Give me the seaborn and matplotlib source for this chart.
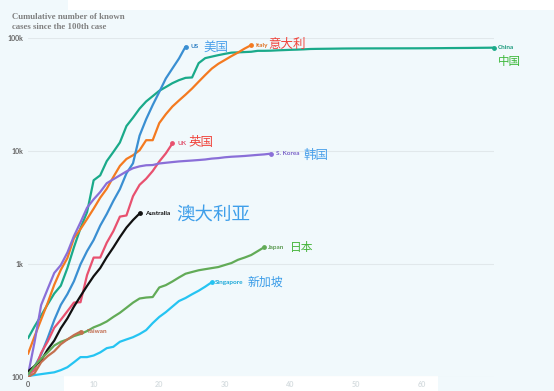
import matplotlib
matplotlib.use("Agg")
import matplotlib.pyplot as plt
from matplotlib.patches import Rectangle
import numpy as np
import pandas as pd
import seaborn as sns

# ---------------- data (cumulative cases, day 0 = 100th case) ----------------
china = [220, 280, 350, 440, 548, 643, 920, 1406, 2075, 2877, 5509, 6087, 8141, 9802,
         11891, 16630, 19716, 23707, 27440, 30587, 34110, 36814, 39829, 42354, 44386,
         44759, 59895, 66358, 68413, 70513, 72434, 74211, 74619, 75077, 75550, 77001,
         77022, 77241, 77754, 78166, 78600, 78928, 79356, 79932, 80136, 80261, 80386,
         80537, 80690, 80770, 80823, 80860, 80887, 80921, 80932, 80945, 80977, 81003,
         81033, 81058, 81102, 81156, 81250, 81305, 81435, 81498, 81591, 81661, 81782,
         81897, 81999, 82122]
italy = [160, 229, 322, 453, 655, 888, 1128, 1694, 2036, 2502, 3089, 3858, 4636, 5883,
         7375, 8500, 9172, 10149, 12462, 12462, 17660, 21157, 24747, 27980, 31506,
         35713, 41035, 47021, 53578, 59138, 63927, 69176, 74386, 80589, 86498]
us = [100, 124, 158, 221, 319, 435, 541, 704, 994, 1301, 1630, 2183, 2770, 3613, 4596,
      6344, 7786, 13680, 19101, 25493, 33276, 43847, 53740, 65778, 83836]
uk = [105, 115, 163, 206, 273, 321, 382, 456, 459, 798, 1140, 1140, 1543, 1950, 2626,
      2689, 3983, 5018, 5683, 6650, 8077, 9529, 11658]
korea = [104, 204, 433, 602, 833, 977, 1261, 1766, 2337, 3150, 3736, 4335, 5186, 5621,
         6088, 6593, 7041, 7314, 7478, 7513, 7755, 7869, 7979, 8086, 8162, 8236, 8320,
         8413, 8565, 8652, 8799, 8897, 8961, 9037, 9137, 9241, 9332, 9478]
australia = [112, 125, 140, 175, 210, 270, 330, 420, 520, 640, 780, 920, 1150, 1400,
             1730, 2100, 2450, 2800]
japan = [105, 125, 145, 165, 190, 205, 215, 230, 240, 255, 275, 290, 310, 340, 370,
         410, 455, 495, 505, 510, 620, 650, 700, 760, 820, 850, 880, 900, 920, 940,
         980, 1020, 1090, 1140, 1200, 1300, 1410]
singapore = [102, 104, 106, 108, 110, 115, 122, 135, 150, 150, 155, 165, 180, 185, 205,
             215, 225, 240, 260, 300, 340, 375, 420, 470, 500, 540, 580, 630, 690]
taiwan = [100, 108, 135, 153, 169, 195, 215, 235, 252]

countries = ["China", "Italy", "US", "UK", "S. Korea", "Australia", "Japan",
             "Singapore", "Taiwan"]
series = [china, italy, us, uk, korea, australia, japan, singapore, taiwan]
zh_names = ["中国", "意大利", "美国", "英国", "韩国", "澳大利亚", "日本", "新加坡", ""]

ytick_vals = [100, 1000, 10000, 100000]
ytick_labels = ["100", "1k", "10k", "100k"]
xtick_vals = [0, 10, 20, 30, 40, 50, 60]

# ---------------- styling ----------------
colors = {"China": "#1aaa8a", "Italy": "#f47a20", "US": "#3a8fd2", "UK": "#e8516f",
          "S. Korea": "#8a6fd8", "Australia": "#111111", "Japan": "#62ab57",
          "Singapore": "#25c4f2", "Taiwan": "#c4704f"}
label_colors = {"China": "#1a9a7c", "Italy": "#e07020", "US": "#2f80c4", "UK": "#e0506c",
                "S. Korea": "#7a62c8", "Australia": "#111111", "Japan": "#5a9a50",
                "Singapore": "#1aa8d8", "Taiwan": "#c0684a"}
zh_colors = {"China": "#3cb83a", "Italy": "#f0443c", "US": "#4aa0ea", "UK": "#f0443c",
             "S. Korea": "#4aa0ea", "Australia": "#3f9fea", "Japan": "#45b43a",
             "Singapore": "#3a9ce8", "Taiwan": "#c0684a"}
zh_sizes = {"China": 8.3, "Italy": 9, "US": 9, "UK": 9, "S. Korea": 9,
            "Australia": 13.3, "Japan": 8.5, "Singapore": 8.6, "Taiwan": 8}
# (english label dx, zh label dx, zh label dy) in pixels
offsets = {"China": (4, 4, -14), "Italy": (4, 17, 1), "US": (5, 18, -1),
           "UK": (5, 16, 1), "S. Korea": (5, 33, -2), "Australia": (5, 37, -1),
           "Japan": (4, 26, 0), "Singapore": (3, 36, 0), "Taiwan": (6, 40, 0)}

rows = []
for c, vals in zip(countries, series):
    for d, v in enumerate(vals):
        rows.append({"country": c, "day": d, "cases": v})
df = pd.DataFrame(rows)

sns.set_theme(style="white")
plt.rcParams["font.family"] = ["Lato", "DejaVu Sans"]

bg = "#f1f9fc"
fig = plt.figure(figsize=(5.54, 3.91), dpi=100, facecolor=bg)
ax = fig.add_axes([28 / 554, 1 - 377 / 391, (494 - 28) / 554, (377 - 38) / 391])
ax.set_facecolor("none")

# white strips seen in the reference
fig.patches.append(Rectangle((64 / 554, 0), (438 - 64) / 554, 15 / 391,
                             transform=fig.transFigure, facecolor="white",
                             edgecolor="none", zorder=-5))
fig.patches.append(Rectangle((68 / 554, 1 - 10 / 391), (554 - 68) / 554, 10 / 391,
                             transform=fig.transFigure, facecolor="white",
                             edgecolor="none", zorder=-5))

sns.lineplot(data=df, x="day", y="cases", hue="country", hue_order=countries,
             palette=colors, linewidth=1.6, legend=False, ax=ax, zorder=3)

ax.set_yscale("log")
ax.set_ylim(100, 100000)
ax.set_xlim(0, 71)
ax.minorticks_off()
ax.set_yticks(ytick_vals)
ax.set_yticklabels(ytick_labels)
ax.set_xticks(xtick_vals)
ax.set_xticklabels([str(v) for v in xtick_vals])
ax.tick_params(axis="y", length=0, pad=3, labelsize=5.0, labelcolor="#666666")
ax.tick_params(axis="x", length=0, pad=3, labelsize=5.2, labelcolor="#d6dde0")
ax.get_xticklabels()[0].set_color("#666666")
for t in ax.get_yticklabels() + ax.get_xticklabels():
    t.set_fontweight("bold")
ax.set_xlabel("")
ax.set_ylabel("")
for s in ax.spines.values():
    s.set_visible(False)
ax.yaxis.grid(True, color="#e1e8eb", linewidth=0.8, zorder=0)
ax.xaxis.grid(False)

# end points and labels
for c, vals, zh in zip(countries, series, zh_names):
    d = len(vals) - 1
    v = vals[-1]
    ax.scatter([d], [v], s=6, color=colors[c], zorder=4, clip_on=False)
    ex, zx, zy = offsets[c]
    ax.annotate(c, xy=(d, v), xytext=(ex, 0), textcoords="offset pixels",
                fontsize=4.6, fontweight="bold", color=label_colors[c],
                va="center", ha="left", annotation_clip=False, zorder=5)
    if zh:
        ax.annotate(zh, xy=(d, v), xytext=(zx, zy), textcoords="offset pixels",
                    fontsize=zh_sizes[c], color=zh_colors[c], va="center", ha="left",
                    family=["Noto Sans CJK SC", "DejaVu Sans"],
                    annotation_clip=False, zorder=5)

fig.text(12 / 554, 1 - 13 / 391, "Cumulative number of known\ncases since the 100th case",
         ha="left", va="top", fontsize=6.3, fontweight="bold", color="#808080",
         family="Liberation Serif", linespacing=1.3)

fig.savefig("out.png", dpi=100, facecolor=bg)
